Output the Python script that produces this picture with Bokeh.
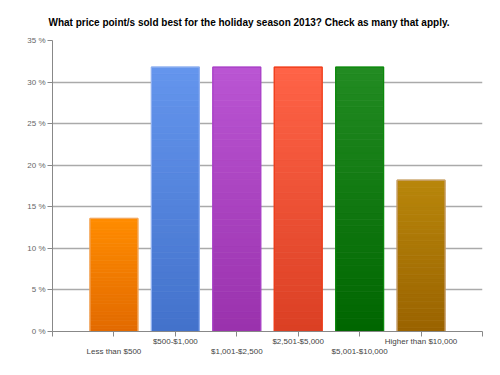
import numpy as np
from bokeh.plotting import figure
from bokeh.models import FixedTicker, PrintfTickFormatter, Range1d, ColumnDataSource
from bokeh.embed import file_html
from bokeh.resources import INLINE

categories = ["Less than $500", "$500-$1,000", "$1,001-$2,500", "$2,501-$5,000",
              "$5,001-$10,000", "Higher than $10,000"]
values = [13.6, 31.8, 31.8, 31.8, 31.8, 18.2]
top_colors = ["#FF8C00", "#6495ED", "#BA55D3", "#FF6347", "#228B22", "#B8860B"]
bottom_colors = ["#E26A00", "#4372CB", "#9A32AD", "#DB4024", "#006600", "#9A6300"]
border_colors = ["#F2A860", "#8FB0F0", "#A83FC6", "#EE3A16", "#0A8A0A", "#C8A070"]
y_ticks = [0, 5, 10, 15, 20, 25, 30, 35]

title = "What price point/s sold best for the holiday season 2013? Check as many that apply."

p = figure(width=492, height=367, output_backend="svg", toolbar_location=None,
           x_range=Range1d(0, 7), y_range=Range1d(0, 35),
           min_border_left=52, min_border_right=10, min_border_top=40, min_border_bottom=36)
p.outline_line_color = None
p.title.text = title
p.title.align = "left"
p.title.text_font = "Liberation Sans"
p.title.text_font_size = "10px"
p.title.text_font_style = "bold"
p.title.text_color = "#000000"
p.title.offset = -4
p.title.standoff = 26

def hex2rgb(h):
    h = h.lstrip("#")
    return np.array([int(h[i:i + 2], 16) for i in (0, 2, 4)], dtype=float)

def rgb2hex(c):
    return "#%02x%02x%02x" % tuple(int(round(v)) for v in c)

N = 40
xs, bots, tops, cols = [], [], [], []
for i, (v, tc, bc) in enumerate(zip(values, top_colors, bottom_colors)):
    t1, b1 = hex2rgb(tc), hex2rgb(bc)
    edges = np.linspace(0, v, N + 1)
    for k in range(N):
        f = (k + 0.5) / N
        xs.append(i + 1)
        bots.append(edges[k])
        tops.append(edges[k + 1])
        cols.append(rgb2hex(b1 + (t1 - b1) * f))

p.xgrid.grid_line_color = None
p.ygrid.grid_line_color = "#AAAAAA"
p.ygrid.grid_line_width = 1.3
p.ygrid.ticker = FixedTicker(ticks=y_ticks)

p.vbar(x=xs, bottom=bots, top=tops, width=0.78, fill_color=cols,
       line_color=cols, line_width=0.8)
src = ColumnDataSource(dict(x=list(range(1, 7)), top=values, lc=border_colors))
p.vbar(x="x", bottom=0, top="top", width=0.78, fill_alpha=0, line_color="lc",
       line_width=1.2, source=src)

p.yaxis.ticker = FixedTicker(ticks=y_ticks)
p.yaxis.formatter = PrintfTickFormatter(format="%d %%")
p.yaxis.major_label_text_font = "Liberation Sans"
p.yaxis.major_label_text_font_size = "8px"
p.yaxis.major_label_text_color = "#666666"
p.yaxis.axis_line_color = "#888888"
p.yaxis.major_tick_line_color = "#888888"
p.yaxis.major_tick_out = 5
p.yaxis.major_tick_in = 0
p.yaxis.minor_tick_line_color = None
p.yaxis.major_label_standoff = 2

p.xaxis.ticker = FixedTicker(ticks=list(range(0, 8)))
overrides = {0: "", 7: ""}
for i, c in enumerate(categories):
    overrides[i + 1] = ("\n" + c) if i % 2 == 0 else c
p.xaxis.major_label_overrides = overrides
p.xaxis.major_label_text_font = "Liberation Sans"
p.xaxis.major_label_text_font_size = "8px"
p.xaxis.major_label_text_color = "#444444"
p.xaxis.axis_line_color = "#888888"
p.xaxis.major_tick_line_color = "#888888"
p.xaxis.major_tick_out = 5
p.xaxis.major_tick_in = 0
p.xaxis.minor_tick_line_color = None
p.xaxis.major_label_standoff = 0

open("out.html", "w").write(file_html(p, INLINE))
